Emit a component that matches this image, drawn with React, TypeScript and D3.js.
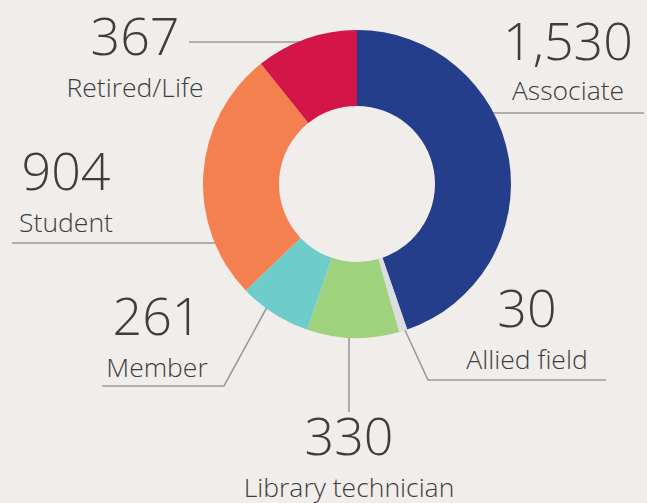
import React from "react";
import * as d3 from "d3";

const categories = ["Associate", "Allied field", "Library technician", "Member", "Student", "Retired/Life"];
const values = [1530, 30, 330, 261, 904, 367];
const colors = ["#243e8c", "#dcdde1", "#9fd27c", "#6ecdcb", "#f4804f", "#d31548"];

// annotation layout (label anchor + leader polyline) keyed by category
const layout: Record<string, { x: number; y: number; ly: number; line: [number, number][] }> = {
  "Associate": { x: 568, y: 60, ly: 100, line: [[480, 113], [644, 113]] },
  "Allied field": { x: 527, y: 327, ly: 369, line: [[398, 315], [428, 380], [606, 380]] },
  "Library technician": { x: 349, y: 455, ly: 497, line: [[349, 320], [349, 412]] },
  "Member": { x: 157, y: 335, ly: 377, line: [[272, 298], [224, 386], [102, 386]] },
  "Student": { x: 66, y: 190, ly: 232, line: [[12, 243], [230, 243]] },
  "Retired/Life": { x: 135, y: 55, ly: 97, line: [[189, 42], [310, 42]] },
};

export default function App() {
  const W = 647, H = 503;
  const cx = 357, cy = 184;
  const rOuter = 154, rInner = 78;
  const pie = d3.pie<number>().sort(null).value((d) => d);
  const arcs = pie(values);
  const arc = d3.arc<d3.PieArcDatum<number>>().innerRadius(rInner).outerRadius(rOuter);
  const fmt = d3.format(",");
  const lineGen = d3.line();
  return (
    <svg width={W} height={H} style={{ position: "absolute", left: 0, top: 0, background: "#f1edeb" }}
      fontFamily="'Open Sans', sans-serif">
      <rect width={W} height={H} fill="#f1edeb" />
      {categories.map((c) => (
        <path key={c + "l"} d={lineGen(layout[c].line) || ""} fill="none" stroke="#9a9a9a" strokeWidth={1.6} />
      ))}
      <g transform={`translate(${cx},${cy})`}>
        {arcs.map((a, i) => (
          <path key={categories[i]} d={arc(a) || ""} fill={colors[i]} />
        ))}
      </g>
      {categories.map((c, i) => (
        <g key={c + "t"} fill="#3d3d3d" fontWeight={300} textAnchor="middle">
          <text x={layout[c].x} y={layout[c].y} fontSize={52}>{fmt(values[i])}</text>
          <text x={layout[c].x} y={layout[c].ly} fontSize={26.5}>{c}</text>
        </g>
      ))}
    </svg>
  );
}
